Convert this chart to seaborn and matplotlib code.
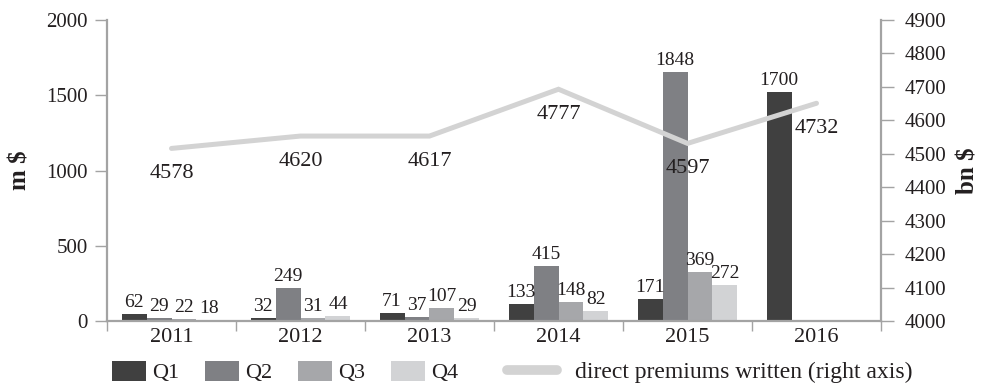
import numpy as np
import pandas as pd
import matplotlib
matplotlib.use("Agg")
import matplotlib.pyplot as plt
import seaborn as sns
from matplotlib.patches import Patch
from matplotlib.lines import Line2D
from matplotlib.ticker import FixedLocator

# ---------------- data ----------------
years = ["2011", "2012", "2013", "2014", "2015", "2016"]
quarters = ["Q1", "Q2", "Q3", "Q4"]

# bar heights as drawn against the left axis (m $)
q1 = [48, 20, 55, 115, 146, 1522]
q2 = [20, 221, 27, 368, 1654, np.nan]
q3 = [13, 20, 89, 128, 326, np.nan]
q4 = [7, 35, 20, 68, 241, np.nan]

# data labels printed on the chart
q1_labels = ["62", "32", "71", "133", "171", "1700"]
q2_labels = ["29", "249", "37", "415", "1848", ""]
q3_labels = ["22", "31", "107", "148", "369", ""]
q4_labels = ["18", "44", "29", "82", "272", ""]

# direct premiums written (right axis, bn $) as drawn, and printed labels
premiums = [4516, 4553, 4553, 4693, 4531, 4651]
premium_labels = ["4578", "4620", "4617", "4777", "4597", "4732"]

left_ticks = [0, 500, 1000, 1500, 2000]
right_ticks = [4000, 4100, 4200, 4300, 4400, 4500, 4600, 4700, 4800, 4900]

# ---------------- style ----------------
colors = ["#404040", "#7f8084", "#a6a7aa", "#d2d3d5"]
line_color = "#d3d3d3"
axis_color = "#a3a3a3"
text_color = "#231f20"

sns.set_style("white")
plt.rcParams["font.family"] = ["Liberation Serif", "DejaVu Serif"]
plt.rcParams["font.size"] = 14
plt.rcParams["text.color"] = text_color

rows = []
for q, vals in zip(quarters, [q1, q2, q3, q4]):
    for y, v in zip(years, vals):
        rows.append((y, q, v))
df = pd.DataFrame(rows, columns=["year", "quarter", "value"])

label_map = {}
for q, labs in zip(quarters, [q1_labels, q2_labels, q3_labels, q4_labels]):
    for y, l in zip(years, labs):
        label_map[(q, y)] = l

fig = plt.figure(figsize=(9.84, 3.84), dpi=100)
ax = fig.add_axes([107 / 984, 63 / 384, 774 / 984, 301 / 384])

sns.barplot(data=df, x="year", y="value", hue="quarter", order=years,
            hue_order=quarters, palette=colors, width=0.775, saturation=1,
            errorbar=None, linewidth=0, legend=False, ax=ax)

# bar labels
for q, cont in zip(quarters, ax.containers):
    for bar in cont:
        h = bar.get_height()
        if h is None or np.isnan(h):
            continue
        xc = bar.get_x() + bar.get_width() / 2
        yi = int(round(xc))
        lab = label_map[(q, years[yi])]
        if lab:
            ax.annotate(lab, (xc, h), xytext=(0, 2), textcoords="offset points",
                        ha="center", va="bottom", fontsize=14, color=text_color)

ax.set_ylim(0, 2000)
ax.set_yticks(left_ticks)
ax.set_xlabel("")
ax.set_ylabel("m $", fontweight="bold", fontsize=18, color=text_color, va="center")
ax.yaxis.set_label_coords(-0.113, 0.5)

ax2 = ax.twinx()
sns.lineplot(x=np.arange(len(years)), y=premiums, ax=ax2, color=line_color,
             lw=3.6, solid_capstyle="round", solid_joinstyle="miter")
for i, (v, lab) in enumerate(zip(premiums, premium_labels)):
    ax2.annotate(lab, (i, v), xytext=(0, -18), textcoords="offset points",
                 ha="center", va="center", fontsize=16, color=text_color)
ax2.set_ylim(4000, 4900)
ax2.set_yticks(right_ticks)
ax2.set_ylabel("bn $", fontweight="bold", fontsize=18, color=text_color,
               va="center", rotation=90)
ax2.yaxis.set_label_coords(1.112, 0.5)

ax.set_xlim(-0.5, len(years) - 0.5)

# spines
for s in ["top", "right"]:
    ax.spines[s].set_visible(False)
for s in ["left", "bottom"]:
    ax.spines[s].set_color(axis_color)
    ax.spines[s].set_linewidth(1.6)
for s in ["top", "left", "bottom"]:
    ax2.spines[s].set_visible(False)
ax2.spines["right"].set_color(axis_color)
ax2.spines["right"].set_linewidth(1.6)

# ticks
ax.tick_params(axis="y", which="major", left=True, length=9, width=1,
               color=axis_color, pad=5, labelsize=15, labelcolor=text_color)
ax.tick_params(axis="x", which="major", bottom=True, length=0, pad=5,
               labelsize=16, labelcolor=text_color)
ax.xaxis.set_minor_locator(FixedLocator(np.arange(-0.5, len(years), 1.0)))
ax.tick_params(axis="x", which="minor", bottom=True, length=7.5, width=1,
               color=axis_color)
ax2.tick_params(axis="y", which="major", right=True, length=9, width=1,
                color=axis_color, pad=8, labelsize=15, labelcolor=text_color)

# legend
h1 = [Patch(facecolor=c, edgecolor="none") for c in colors]
fig.legend(h1, quarters, loc="center left",
           bbox_to_anchor=(112 / 984, 1 - 372 / 384), ncol=4, frameon=False,
           handlelength=1.53, handleheight=1.04, handletextpad=0.27,
           columnspacing=1.17, borderpad=0, borderaxespad=0, fontsize=16)
h2 = [Line2D([0], [0], color=line_color, lw=7, solid_capstyle="round")]
fig.legend(h2, ["direct premiums written (right axis)"], loc="center left",
           bbox_to_anchor=(507 / 984, 1 - 372 / 384), frameon=False,
           handlelength=2.12, handletextpad=0.76, borderpad=0,
           borderaxespad=0, fontsize=17)

fig.savefig("out.png", dpi=100)
